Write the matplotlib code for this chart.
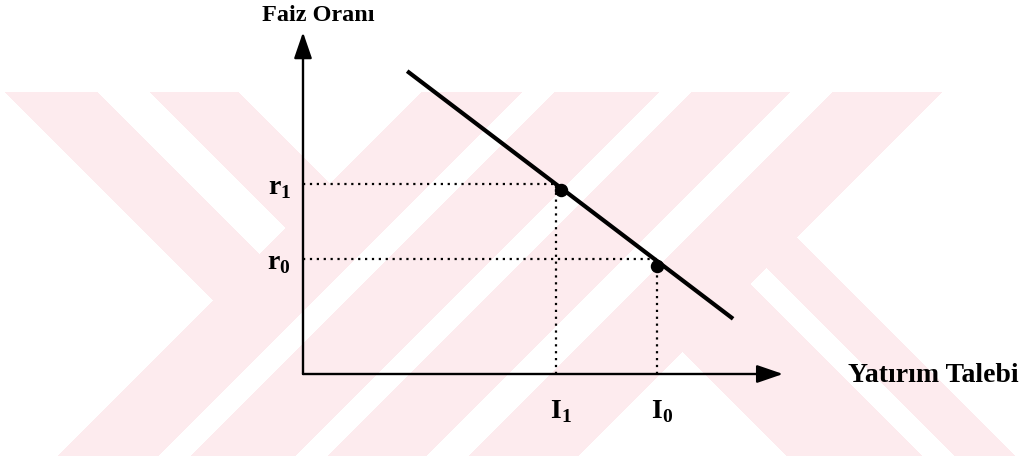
"""Yatırım talebi - faiz oranı diyagramı (arka planda soluk filigran)."""

import numpy as np
import matplotlib.pyplot as plt

plt.rcParams['font.family'] = ['Liberation Serif', 'DejaVu Serif']
plt.rcParams['mathtext.fontset'] = 'custom'
plt.rcParams['mathtext.rm'] = 'Liberation Serif'
plt.rcParams['mathtext.bf'] = 'Liberation Serif:bold'

# --- veriler (eksen birimi) ---
talep_x = [2.17, 8.96]          # yatırım talebi doğrusu
talep_y = [6.31, 1.15]
nokta_x = [5.38, 7.37]          # denge noktaları
nokta_y = [3.83, 2.25]
I_degerleri = [5.27, 7.37]      # I1, I0
r_degerleri = [3.95, 2.40]      # r1, r0
I_etiketleri = [r'$\mathbf{I}_\mathbf{1}$', r'$\mathbf{I}_\mathbf{0}$']
r_etiketleri = [r'$\mathbf{r}_\mathbf{1}$', r'$\mathbf{r}_\mathbf{0}$']
x_ucu = 10.0
y_ucu = 7.12

# filigran şeritleri (piksel, 45 derece): x+y ve x-y aralıkları
egik_bantlar = [(515, 615), (648, 752), (785, 883), (926, 1035)]
sol_bantlar = [(-88, 4), (57, 145)]
sag_bantlar = [(330, 465), (498, 558)]
filigran_ust, filigran_alt = 93, 457

W, H, DPI = 1029, 460, 100
PX = 48.0          # piksel / birim
X0, Y0 = 303, 375  # orijinin piksel konumu

fig = plt.figure(figsize=(W / DPI, H / DPI), dpi=DPI)
ax = fig.add_axes([0, 0, 1, 1])
x_lim = (-X0 / PX, (W - X0) / PX)
y_lim = ((Y0 - H) / PX, Y0 / PX)

# filigran
yy, xx = np.mgrid[0:H, 0:W] + 0.5
s, d = xx + yy, xx - yy
maske = np.zeros((H, W), bool)
for a, b in egik_bantlar:
    maske |= (s >= a) & (s <= b)
for a, b in sol_bantlar:
    maske |= (s < egik_bantlar[0][0]) & (d >= a) & (d <= b)
for a, b in sag_bantlar:
    maske |= (s > egik_bantlar[-1][1]) & (d >= a) & (d <= b)
maske &= (yy >= filigran_ust) & (yy <= filigran_alt)
img = np.ones((H, W, 3))
img[maske] = np.array([253, 235, 238]) / 255
ax.imshow(img, extent=[x_lim[0], x_lim[1], y_lim[0], y_lim[1]],
          aspect='auto', interpolation='nearest', zorder=0)

# eksenler (oklu)
ok = dict(arrowstyle='-|>,head_length=1.6,head_width=0.55', color='black',
          lw=1.7, mutation_scale=10, shrinkA=0, shrinkB=0)
ax.annotate('', xy=(0, y_ucu), xytext=(0, 0), arrowprops=ok)
ax.annotate('', xy=(x_ucu, 0), xytext=(0, 0), arrowprops=ok)

# kesikli yardımcı çizgiler
for I, r in zip(I_degerleri, r_degerleri):
    ax.plot([0, I], [r, r], color='black', lw=1.6, ls=(0, (1, 2.1)), zorder=2)
    ax.plot([I, I], [0, r], color='black', lw=1.6, ls=(0, (1, 2.1)), zorder=2)

ax.plot(talep_x, talep_y, color='black', lw=3, solid_capstyle='butt', zorder=3)
ax.scatter(nokta_x, nokta_y, s=75, color='black', zorder=4)

# etiketler
for I, lab in zip(I_degerleri, I_etiketleri):
    ax.text(I + 0.1, -0.77, lab, fontsize=20, ha='center', va='center')
for r, lab in zip(r_degerleri, r_etiketleri):
    ax.text(-0.25, r - 0.07, lab, fontsize=20, ha='right', va='center')

ax.text(0.32, 7.48, 'Faiz Oranı', fontsize=17.5, fontweight='bold',
        ha='center', va='center')
ax.text(11.35, -0.02, 'Yatırım Talebi', fontsize=20, fontweight='bold',
        ha='left', va='center')

ax.set_xlim(*x_lim)
ax.set_ylim(*y_lim)
ax.axis('off')

fig.savefig('out.png', dpi=DPI)
